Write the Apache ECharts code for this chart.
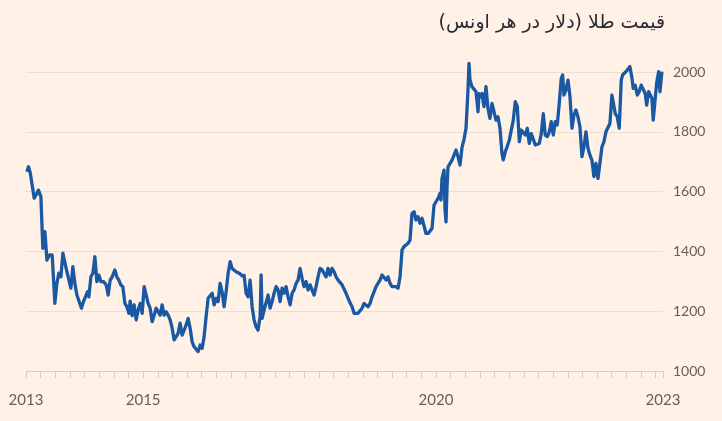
<!DOCTYPE html>
<html>
<head>
<meta charset="utf-8">
<script src="https://cdn.jsdelivr.net/npm/echarts@6/dist/echarts.min.js"></script>
<style>
  html, body { margin: 0; padding: 0; background: #fff1e5; }
  #chart { width: 722px; height: 421px; }
</style>
</head>
<body>
<div id="chart"></div>
<script>
// عنوان نمودار
var titleText = '\u200Fقیمت طلا (دلار در هر اونس)\u200F';

// برچسب‌های محور افقی
var yearLabels = [2013, 2015, 2020, 2023.875];

// زمان (سال اعشاری)
var years = [
  2013.015, 2013.043, 2013.072, 2013.106, 2013.140, 2013.174, 2013.213, 2013.254, 2013.288, 2013.323,
  2013.357, 2013.401, 2013.447, 2013.493, 2013.527, 2013.561, 2013.596, 2013.630, 2013.664, 2013.698,
  2013.732, 2013.766, 2013.800, 2013.834, 2013.869, 2013.903, 2013.947, 2013.981, 2014.015, 2014.049,
  2014.073, 2014.108, 2014.142, 2014.176, 2014.210, 2014.244, 2014.278, 2014.323, 2014.369, 2014.403,
  2014.437, 2014.471, 2014.517, 2014.551, 2014.585, 2014.619, 2014.654, 2014.688, 2014.722, 2014.756,
  2014.778, 2014.812, 2014.846, 2014.881, 2014.915, 2014.949, 2014.983, 2015.017, 2015.051, 2015.085,
  2015.119, 2015.154, 2015.188, 2015.222, 2015.256, 2015.290, 2015.324, 2015.358, 2015.393, 2015.427,
  2015.461, 2015.495, 2015.529, 2015.563, 2015.597, 2015.631, 2015.666, 2015.700, 2015.734, 2015.768,
  2015.802, 2015.836, 2015.870, 2015.904, 2015.939, 2015.973, 2016.007, 2016.041, 2016.075, 2016.109,
  2016.143, 2016.178, 2016.212, 2016.246, 2016.280, 2016.314, 2016.348, 2016.382, 2016.416, 2016.451,
  2016.485, 2016.519, 2016.553, 2016.587, 2016.621, 2016.655, 2016.689, 2016.724, 2016.758, 2016.792,
  2016.826, 2016.860, 2016.894, 2016.928, 2016.962, 2016.997, 2017.014, 2017.031, 2017.065, 2017.099,
  2017.133, 2017.167, 2017.201, 2017.235, 2017.270, 2017.304, 2017.338, 2017.372, 2017.406, 2017.440,
  2017.474, 2017.509, 2017.543, 2017.577, 2017.611, 2017.645, 2017.679, 2017.713, 2017.747, 2017.782,
  2017.816, 2017.850, 2017.884, 2017.918, 2017.952, 2017.986, 2018.020, 2018.055, 2018.089, 2018.123,
  2018.157, 2018.191, 2018.225, 2018.259, 2018.294, 2018.328, 2018.362, 2018.396, 2018.464, 2018.532,
  2018.567, 2018.601, 2018.635, 2018.669, 2018.703, 2018.737, 2018.771, 2018.805, 2018.840, 2018.874,
  2018.908, 2018.942, 2018.976, 2019.010, 2019.044, 2019.079, 2019.113, 2019.147, 2019.181, 2019.215,
  2019.249, 2019.283, 2019.317, 2019.352, 2019.386, 2019.420, 2019.454, 2019.488, 2019.522, 2019.556,
  2019.590, 2019.625, 2019.659, 2019.693, 2019.727, 2019.761, 2019.795, 2019.829, 2019.864, 2019.898,
  2019.932, 2019.966, 2020.000, 2020.034, 2020.068, 2020.085, 2020.102, 2020.137, 2020.154, 2020.171,
  2020.188, 2020.205, 2020.239, 2020.273, 2020.307, 2020.341, 2020.375, 2020.409, 2020.444, 2020.478,
  2020.512, 2020.546, 2020.563, 2020.580, 2020.614, 2020.648, 2020.683, 2020.717, 2020.734, 2020.763,
  2020.785, 2020.819, 2020.853, 2020.887, 2020.921, 2020.956, 2020.990, 2021.024, 2021.058, 2021.092,
  2021.126, 2021.148, 2021.183, 2021.217, 2021.251, 2021.285, 2021.319, 2021.353, 2021.388, 2021.422,
  2021.456, 2021.490, 2021.524, 2021.558, 2021.592, 2021.626, 2021.660, 2021.695, 2021.729, 2021.763,
  2021.797, 2021.831, 2021.865, 2021.900, 2021.934, 2021.968, 2022.002, 2022.036, 2022.070, 2022.104,
  2022.138, 2022.162, 2022.184, 2022.218, 2022.253, 2022.287, 2022.321, 2022.355, 2022.389, 2022.423,
  2022.457, 2022.491, 2022.526, 2022.560, 2022.594, 2022.628, 2022.662, 2022.696, 2022.730, 2022.765,
  2022.799, 2022.833, 2022.867, 2022.901, 2022.935, 2022.969, 2023.003, 2023.026, 2023.060, 2023.094,
  2023.128, 2023.162, 2023.186, 2023.208, 2023.242, 2023.276, 2023.310, 2023.345, 2023.367, 2023.401,
  2023.435, 2023.469, 2023.503, 2023.537, 2023.572, 2023.596, 2023.630, 2023.664, 2023.686, 2023.708,
  2023.732, 2023.766, 2023.800, 2023.823, 2023.857
];

// قیمت (دلار در هر اونس)
var prices = [
  1666, 1683, 1663, 1666, 1578, 1575, 1605, 1583, 1410, 1466,
  1371, 1388, 1388, 1226, 1293, 1327, 1315, 1394, 1394, 1332,
  1327, 1277, 1349, 1293, 1254, 1248, 1210, 1232, 1248, 1265,
  1248, 1315, 1327, 1382, 1299, 1321, 1299, 1299, 1288, 1254,
  1304, 1315, 1338, 1315, 1304, 1288, 1282, 1226, 1215, 1193,
  1234, 1185, 1221, 1171, 1204, 1226, 1193, 1282, 1288, 1226,
  1210, 1165, 1187, 1210, 1204, 1187, 1221, 1187, 1198, 1187,
  1171, 1143, 1104, 1098, 1126, 1160, 1120, 1137, 1154, 1176,
  1143, 1098, 1081, 1087, 1065, 1087, 1076, 1115, 1182, 1243,
  1237, 1260, 1221, 1243, 1232, 1293, 1265, 1215, 1265, 1327,
  1366, 1343, 1349, 1332, 1338, 1325, 1318, 1320, 1260, 1248,
  1304, 1215, 1171, 1148, 1137, 1182, 1321, 1176, 1204, 1198,
  1254, 1210, 1232, 1260, 1282, 1271, 1232, 1277, 1260, 1282,
  1248, 1221, 1260, 1271, 1293, 1304, 1343, 1310, 1282, 1299,
  1271, 1288, 1293, 1254, 1282, 1315, 1343, 1338, 1343, 1315,
  1343, 1321, 1343, 1332, 1315, 1304, 1299, 1288, 1260, 1228,
  1215, 1193, 1198, 1193, 1198, 1210, 1226, 1232, 1215, 1226,
  1248, 1254, 1282, 1288, 1304, 1321, 1327, 1304, 1315, 1293,
  1282, 1277, 1282, 1277, 1315, 1405, 1416, 1421, 1427, 1438,
  1527, 1533, 1505, 1516, 1494, 1511, 1516, 1460, 1460, 1460,
  1477, 1555, 1566, 1577, 1594, 1572, 1644, 1672, 1538, 1499,
  1616, 1683, 1689, 1705, 1722, 1739, 1717, 1689, 1748, 1775,
  1812, 1940, 2029, 1973, 1951, 1956, 1934, 1867, 1928, 1917,
  1928, 1884, 1951, 1878, 1845, 1895, 1901, 1839, 1850, 1812,
  1728, 1706, 1733, 1728, 1772, 1778, 1839, 1901, 1884, 1767,
  1806, 1812, 1789, 1812, 1761, 1794, 1800, 1756, 1750, 1761,
  1794, 1861, 1789, 1784, 1800, 1834, 1789, 1834, 1823, 1895,
  1979, 1990, 1923, 1940, 1973, 1917, 1812, 1856, 1873, 1850,
  1817, 1717, 1750, 1800, 1745, 1722, 1705, 1650, 1694, 1644,
  1650, 1750, 1767, 1800, 1794, 1828, 1923, 1928, 1861, 1850,
  1812, 1973, 1990, 1984, 2001, 1995, 2018, 1979, 1945, 1956,
  1923, 1934, 1956, 1951, 1928, 1889, 1934, 1928, 1912, 1839,
  1834, 1962, 2001, 1934, 2001
];

var goldData = years.map(function(t, i) { return [t, prices[i]]; });

var chart = echarts.init(document.getElementById('chart'));
var option = {
  backgroundColor: '#fff1e5',
  animation: false,
  title: {
    text: titleText,
    right: 52,
    top: 9,
    textStyle: {
      fontFamily: 'DejaVu Sans',
      fontSize: 19,
      fontWeight: 'normal',
      color: '#262a33'
    }
  },
  grid: {
    left: 26,
    right: 59,
    top: 72,
    bottom: 50
  },
  xAxis: {
    type: 'value',
    min: 2013,
    max: 2023.875,
    interval: 0.25,
    axisLine: { lineStyle: { color: '#d8cbbf', width: 1 } },
    axisTick: { show: true, length: 7, lineStyle: { color: '#d8cbbf' } },
    splitLine: { show: false },
    axisLabel: {
      customValues: yearLabels,
      margin: 22,
      color: '#66605c',
      fontFamily: 'Lato',
      fontSize: 15,
      formatter: function(v) { return String(Math.floor(v)); }
    }
  },
  yAxis: {
    type: 'value',
    position: 'right',
    min: 1000,
    max: 2000,
    interval: 200,
    axisLine: { show: false },
    axisTick: { show: false },
    splitLine: { lineStyle: { color: '#ebdfd3', width: 1 } },
    axisLabel: {
      margin: 10,
      color: '#66605c',
      fontFamily: 'Lato',
      fontSize: 14,
      formatter: function(v) { return String(v); }
    }
  },
  series: [{
    type: 'line',
    data: goldData,
    showSymbol: false,
    clip: false,
    lineStyle: { color: '#1a58a3', width: 3.3, join: 'round' }
  }]
};
chart.setOption(option);
</script>
</body>
</html>
